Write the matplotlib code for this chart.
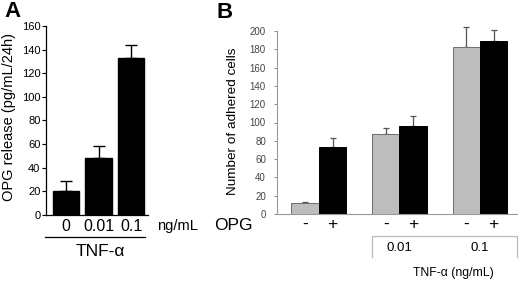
import matplotlib
matplotlib.use("Agg")
import numpy as np
import matplotlib.pyplot as plt
import matplotlib.transforms as mtransforms

plt.rcParams['font.family'] = ['Liberation Sans', 'DejaVu Sans']

# Panel A: OPG release vs TNF-alpha dose
tnf_doses = ["0", "0.01", "0.1"]
opg_release = [20, 48, 133]
opg_release_err = [8.5, 10.5, 10.5]

# Panel B: adhered cells, without (-) / with (+) OPG
tnf_groups = ["", "0.01", "0.1"]
opg_signs = ["-", "+"]
cells_no_opg = [12, 87.5, 183]
cells_no_opg_err = [1, 7, 21]
cells_opg = [73, 96.5, 189]
cells_opg_err = [10, 11, 12]

W, H = 520, 281
fig = plt.figure(figsize=(W / 100, H / 100), dpi=100)


def fx(x):
    return x / W


def fy(y):
    return 1 - y / H


def unclip(container):
    for part in container.lines:
        if part is None:
            continue
        for a in (part if isinstance(part, (tuple, list)) else [part]):
            a.set_clip_on(False)


# ---------------- Panel A ----------------
axA = fig.add_axes([fx(46), fy(215), (148 - 46) / W, (215 - 26) / H])
xa = np.arange(len(tnf_doses))
axA.bar(xa, opg_release, width=0.82, color="black", edgecolor="black", zorder=2)
eb = axA.errorbar(xa, opg_release, yerr=[np.zeros(3), opg_release_err], fmt="none",
                  ecolor="black", elinewidth=1, capsize=4.5, capthick=1, zorder=1)
unclip(eb)
axA.set_xlim(-0.62, 2.52)
axA.set_ylim(0, 160)
axA.set_yticks(np.arange(0, 161, 20))
axA.tick_params(axis="y", labelsize=8, length=3, width=0.8, pad=1)
axA.set_xticks(xa)
axA.set_xticklabels(tnf_doses, fontsize=11.5)
axA.tick_params(axis="x", length=0, pad=3)
for s in ["top", "right"]:
    axA.spines[s].set_visible(False)
for s in ["left", "bottom"]:
    axA.spines[s].set_linewidth(0.9)

fig.text(fx(177), fy(226), "ng/mL", fontsize=10.5, ha="center", va="center")
fig.add_artist(plt.Line2D([fx(45), fx(145)], [fy(237), fy(237)], color="black", lw=0.9))
fig.text(fx(100), fy(252), "TNF-α", fontsize=12.5, ha="center", va="center")
fig.text(fx(9), fy(117), "OPG release (pg/mL/24h)", fontsize=10.5, rotation=90,
         ha="center", va="center")
fig.text(fx(4), fy(1), "A", fontsize=16, fontweight="bold", ha="left", va="top")

# ---------------- Panel B ----------------
axB = fig.add_axes([fx(277), fy(214), (517 - 277) / W, (214 - 31) / H])
g = np.arange(len(tnf_groups))
w = 0.34
axB.bar(g - w / 2, cells_no_opg, width=w, color="#bdbdbd", edgecolor="#6e6e6e",
        linewidth=0.7, zorder=2)
axB.bar(g + w / 2, cells_opg, width=w, color="black", edgecolor="black",
        linewidth=0.7, zorder=2)
eb = axB.errorbar(g - w / 2, cells_no_opg, yerr=[np.zeros(3), cells_no_opg_err], fmt="none",
                  ecolor="#555555", elinewidth=0.9, capsize=2, capthick=0.9, zorder=1)
unclip(eb)
eb = axB.errorbar(g + w / 2, cells_opg, yerr=[np.zeros(3), cells_opg_err], fmt="none",
                  ecolor="#555555", elinewidth=0.9, capsize=2, capthick=0.9, zorder=1)
unclip(eb)
axB.set_xlim(-0.52, 2.46)
axB.set_ylim(0, 200)
axB.set_yticks(np.arange(0, 201, 20))
axB.tick_params(axis="y", labelsize=7, labelcolor="#444444", color="#888888",
                length=2, width=0.7, pad=6)
bar_pos = np.concatenate([[gi - w / 2, gi + w / 2] for gi in g])
axB.set_xticks(bar_pos)
axB.set_xticklabels(opg_signs * len(g), fontsize=12.5)
axB.tick_params(axis="x", length=0, pad=2)
for s in ["top", "right"]:
    axB.spines[s].set_visible(False)
for s in ["left", "bottom"]:
    axB.spines[s].set_color("#999999")
    axB.spines[s].set_linewidth(0.8)

fig.text(fx(233), fy(226), "OPG", fontsize=12.5, ha="center", va="center")
fig.text(fx(233), fy(121), "Number of adhered cells", fontsize=9.7, rotation=90,
         ha="center", va="center")
fig.text(fx(216), fy(2), "B", fontsize=16, fontweight="bold", ha="left", va="top")

# TNF-alpha bracket under groups 2 and 3
trans = mtransforms.blended_transform_factory(axB.transData, fig.transFigure)
x0 = g[1] - w
x1 = axB.get_xlim()[1]
axB.plot([x0, x0, x1, x1], [fy(257), fy(236), fy(236), fy(257)], color="#bbbbbb",
         lw=0.9, transform=trans, clip_on=False)
for gi, lab in zip(g, tnf_groups):
    if lab:
        axB.text(gi, fy(248), lab, fontsize=9.5, ha="center", va="center", transform=trans)
fig.text(fx(453), fy(273), "TNF-α (ng/mL)", fontsize=8.8, ha="center", va="center")

fig.savefig("out.png", dpi=100)
